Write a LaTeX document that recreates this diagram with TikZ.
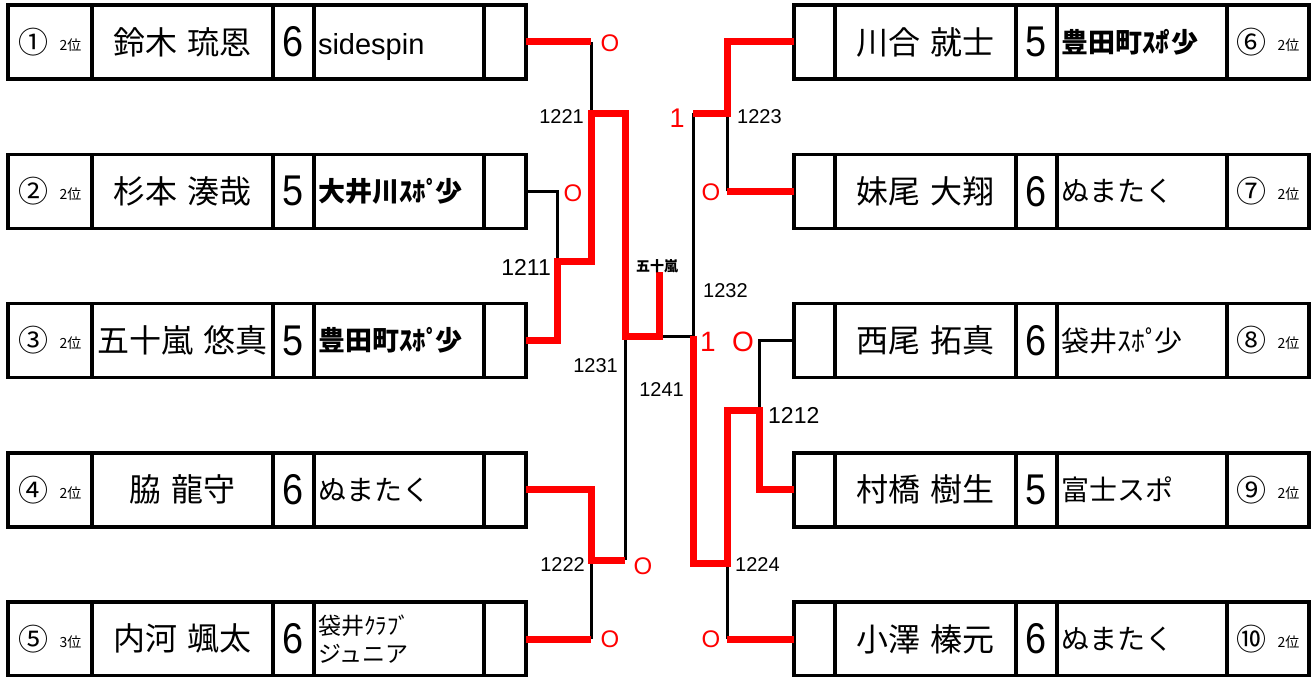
\documentclass[tikz,border=0pt]{standalone}
\usepackage{fontspec}
\setmainfont{Liberation Sans}
\newfontfamily\jp{Noto Sans CJK JP}
\newfontfamily\gradefont{Liberation Sans}[FakeStretch=0.88]
\usetikzlibrary{positioning}

\begin{document}
\begin{tikzpicture}[x=1pt,y=-1pt,
		cell/.style={draw,line width=3.5pt,minimum height=74pt,outer sep=0pt,inner sep=0pt},
		rank cell/.style={cell,minimum width=84pt,font=\jp},
		name cell/.style={cell,minimum width=181pt,font={\jp\fontsize{32}{32}\selectfont\spaceskip=11pt\relax}},
		grade cell/.style={cell,minimum width=41pt,font=\gradefont\fontsize{43}{43}\selectfont},
		team cell/.style={cell,text width=162pt,inner xsep=4pt,align=left,font=\jp\fontsize{28}{28}\selectfont},
		blank cell/.style={cell,minimum width=42pt},
		plain line/.style={line width=3pt},
		win line/.style={red,line width=7pt},
		num label/.style={inner sep=0pt,font=\fontsize{20}{20}\selectfont},
		score/.style={inner sep=0pt,red,font=\fontsize{24}{24}\selectfont}]

	\useasboundingbox (0,0) rectangle (1314,677);

	% left block
	\foreach \i/\y/\c/\r/\n/\g/\t in {
		1/42/①/2位/鈴木 琉恩/6/{\rmfamily\fontsize{29}{28}\selectfont\raisebox{-5pt}[\height][\depth]{sidespin}},
		2/191.25/②/2位/杉本 湊哉/5/{\bfseries\fontsize{27}{28}\selectfont 大井川ｽﾎﾟ\kern-.15em少},
		3/340.5/③/2位/五十嵐 悠真/5/{\bfseries\fontsize{27}{28}\selectfont 豊田町ｽﾎﾟ\kern-.15em少},
		4/489.75/④/2位/脇 龍守/6/ぬまたく,
		5/639/⑤/3位/内河 颯太/6/{\fontsize{23}{27}\selectfont 袋井ｸﾗﾌﾞ\\ジュニア}}
	{
		\node[rank cell] (rk\i) at (50,\y) {{\fontsize{30}{30}\selectfont\c}\hspace{11pt}\raisebox{3pt}{\fontsize{14}{14}\selectfont\r}};
		\node[name cell,right=0pt of rk\i] (nm\i) {\n};
		\node[grade cell,right=0pt of nm\i] (gr\i) {\g};
		\node[team cell,right=0pt of gr\i] (tm\i) {\t};
		\node[blank cell,right=0pt of tm\i] (rs\i) {};
	}

	% right block
	\foreach \i/\y/\c/\r/\n/\g/\t in {
		6/42/⑥/2位/川合 就士/5/{\bfseries\fontsize{27}{28}\selectfont 豊田町ｽﾎ\kern-.2emﾟ\kern-.2em少},
		7/191.25/⑦/2位/妹尾 大翔/6/ぬまたく,
		8/340.5/⑧/2位/西尾 拓真/6/袋井ｽﾎﾟ\kern-.15em少,
		9/489.75/⑨/2位/村橋 樹生/5/富士スポ,
		10/639/⑩/2位/小澤 榛元/6/ぬまたく}
	{
		\node[blank cell,minimum width=41pt] (rs\i) at (814.5,\y) {};
		\node[name cell,right=0pt of rs\i] (nm\i) {\n};
		\node[grade cell,right=0pt of nm\i] (gr\i) {\g};
		\node[team cell,right=0pt of gr\i] (tm\i) {\t};
		\node[rank cell,minimum width=82pt,right=0pt of tm\i] (rk\i) {{\fontsize{30}{30}\selectfont\c}\hspace{11pt}\raisebox{3pt}{\fontsize{14}{14}\selectfont\r}};
	}

	% bracket corners
	\coordinate (m1221) at (591,113);
	\coordinate (m1211) at (557,261);
	\coordinate (m1222) at (591,560);
	\coordinate (m1231) at (625,336);
	\coordinate (m1223) at (727,113);
	\coordinate (m1212) at (759,410);
	\coordinate (m1224) at (727,563);
	\coordinate (m1232) at (693,336);
	\coordinate (flag) at (659,272);

	\draw[plain line] (rs1.east -| m1221) -- (m1221);
	\draw[plain line] (rs2.east) -| (m1211);
	\draw[plain line] (m1222 -| m1231) -- (m1231);
	\draw[plain line] (rs5.east -| m1222) -- (m1222);
	\draw[plain line] (m1231 -| flag) -- (m1232);
	\draw[plain line] (m1223 -| m1232) -- (m1232);
	\draw[plain line] (rs7.west -| m1223) -- (m1223);
	\draw[plain line] (rs8.west) -| (m1212);
	\draw[plain line] (rs10.west -| m1224) -- (m1224);

	\draw[win line] (rs1.east) -- (rs1.east -| m1221);
	\draw[win line] (rs3.east) -| (m1211) -| (m1221) -| (m1231) -| (flag);
	\draw[win line] (rs4.east) -| (m1222) -- (m1222 -| m1231);
	\draw[win line] (rs5.east) -- (rs5.east -| m1222);
	\draw[win line] (rs6.west) -| (m1223) -- (m1223 -| m1232);
	\draw[win line] (rs7.west) -- (rs7.west -| m1223);
	\draw[win line] (rs9.west) -| (m1212) -| (m1224) -| (m1232);
	\draw[win line] (rs10.west) -- (rs10.west -| m1224);

	% match numbers
	\node[num label,anchor=east] (t1221) at (584,117) {1221};
	\node[num label,anchor=east,font=\fontsize{23}{23}\selectfont] (t1211) at (551,267) {1211};
	\node[num label,anchor=east] (t1222) at (585,565) {1222};
	\node[num label,anchor=east] (t1231) at (618,366) {1231};
	\node[num label,anchor=east] (t1241) at (684,390) {1241};
	\node[num label,anchor=west] (t1232) at (703,291) {1232};
	\node[num label,anchor=west] (t1223) at (737,117) {1223};
	\node[num label,anchor=west,font=\fontsize{23}{23}\selectfont] (t1212) at (768,415) {1212};
	\node[num label,anchor=west] (t1224) at (735,565) {1224};

	% scores
	\node[score] (s1) at (610,43) {O};
	\node[score] (s2) at (573,193) {O};
	\node[score] (s4) at (643,566) {O};
	\node[score] (s5) at (610,639) {O};
	\node[score,font=\fontsize{27}{27}\selectfont] (s6) at (677,118) {1};
	\node[score] (s7) at (711,192) {O};
	\node[score,font=\fontsize{28}{28}\selectfont] (s9) at (708,342) {1};
	\node[score,font=\fontsize{28}{28}\selectfont] (s8) at (743,342) {O};
	\node[score] (s10) at (711,639) {O};

	\node[font=\jp\bfseries\fontsize{14}{14}\selectfont,inner sep=0pt] (champ) at (657,266) {五十嵐};
\end{tikzpicture}
\end{document}
